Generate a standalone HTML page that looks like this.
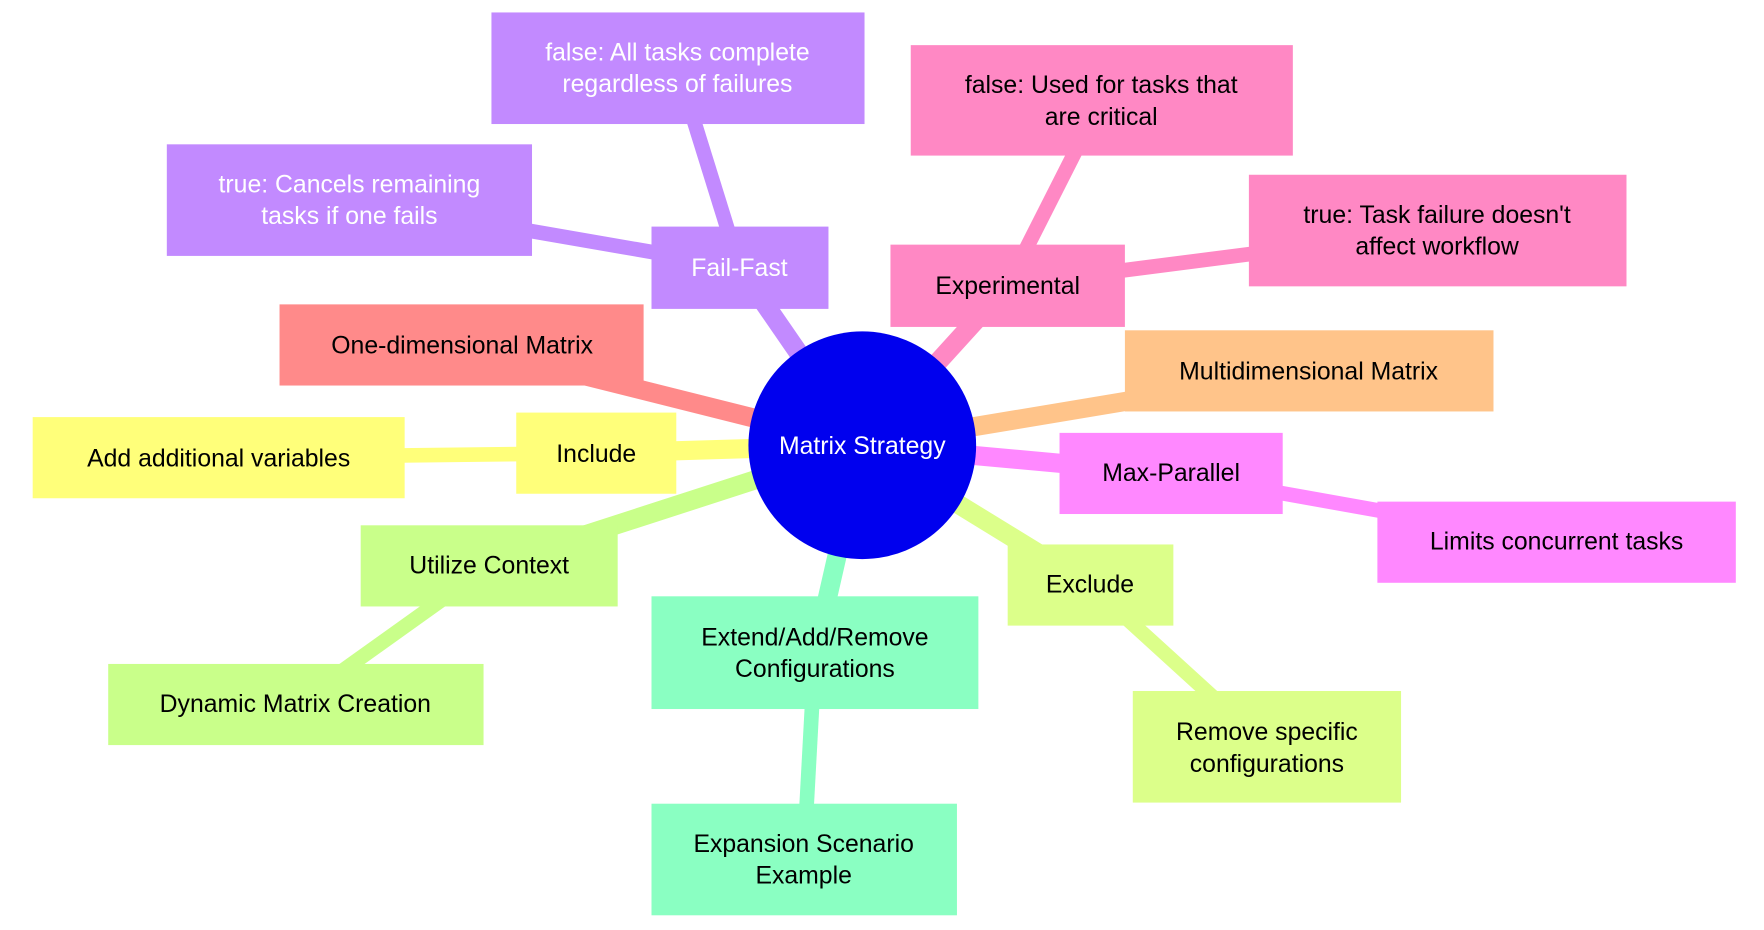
<!DOCTYPE html>
<html><head><meta charset="utf-8"><style>
html,body{margin:0;padding:0;background:#fff;}
svg{display:block}
text{font-family:"Liberation Sans",sans-serif;font-size:22px;text-anchor:middle;dominant-baseline:central;}
</style></head><body>
<svg width="1764" height="930" viewBox="0 0 1565 825" xmlns="http://www.w3.org/2000/svg">
<g stroke-linecap="butt">
<line x1="765" y1="395" x2="656" y2="237" stroke="#c28aff" stroke-width="17"/>
<line x1="656" y1="237" x2="601" y2="60" stroke="#c28aff" stroke-width="13"/>
<line x1="656" y1="237" x2="310" y2="177" stroke="#c28aff" stroke-width="13"/>
<line x1="765" y1="395" x2="894" y2="253" stroke="#ff88c4" stroke-width="17"/>
<line x1="894" y1="253" x2="977" y2="89" stroke="#ff88c4" stroke-width="13"/>
<line x1="894" y1="253" x2="1275" y2="204" stroke="#ff88c4" stroke-width="13"/>
<line x1="765" y1="395" x2="410" y2="306" stroke="#ff8a8a" stroke-width="17"/>
<line x1="765" y1="395" x2="1161" y2="329" stroke="#ffc48a" stroke-width="17"/>
<line x1="765" y1="395" x2="529" y2="402" stroke="#ffff7a" stroke-width="17"/>
<line x1="529" y1="402" x2="194" y2="406" stroke="#ffff7a" stroke-width="13"/>
<line x1="765" y1="395" x2="1039" y2="420" stroke="#ff88ff" stroke-width="17"/>
<line x1="1039" y1="420" x2="1381" y2="481" stroke="#ff88ff" stroke-width="13"/>
<line x1="765" y1="395" x2="434" y2="502" stroke="#c9ff8a" stroke-width="17"/>
<line x1="434" y1="502" x2="262" y2="625" stroke="#c9ff8a" stroke-width="13"/>
<line x1="765" y1="395" x2="723" y2="579" stroke="#8affc2" stroke-width="17"/>
<line x1="723" y1="579" x2="713" y2="763" stroke="#8affc2" stroke-width="13"/>
<line x1="765" y1="395" x2="967" y2="519" stroke="#dcff8a" stroke-width="17"/>
<line x1="967" y1="519" x2="1124" y2="662" stroke="#dcff8a" stroke-width="13"/>
</g>
<g>
<rect x="578" y="201" width="157" height="73" fill="#c28aff"/>
<text x="656" y="238" fill="#fff">Fail-Fast</text>
<rect x="436" y="11" width="331" height="99" fill="#c28aff"/>
<text x="601" y="47" fill="#fff">false: All tasks complete</text>
<text x="601" y="75" fill="#fff">regardless of failures</text>
<rect x="148" y="128" width="324" height="99" fill="#c28aff"/>
<text x="310" y="164" fill="#fff">true: Cancels remaining</text>
<text x="310" y="192" fill="#fff">tasks if one fails</text>

<rect x="790" y="217" width="208" height="73" fill="#ff88c4"/>
<text x="894" y="254">Experimental</text>
<rect x="808" y="40" width="339" height="98" fill="#ff88c4"/>
<text x="977" y="76">false: Used for tasks that</text>
<text x="977" y="104">are critical</text>
<rect x="1108" y="155" width="335" height="99" fill="#ff88c4"/>
<text x="1275" y="191">true: Task failure doesn't</text>
<text x="1275" y="219">affect workflow</text>

<rect x="248" y="270" width="323" height="72" fill="#ff8a8a"/>
<text x="410" y="307">One-dimensional Matrix</text>
<rect x="998" y="293" width="327" height="72" fill="#ffc48a"/>
<text x="1161" y="330">Multidimensional Matrix</text>

<rect x="458" y="366" width="142" height="72" fill="#ffff7a"/>
<text x="529" y="403">Include</text>
<rect x="29" y="370" width="330" height="72" fill="#ffff7a"/>
<text x="194" y="407">Add additional variables</text>

<rect x="940" y="384" width="198" height="72" fill="#ff88ff"/>
<text x="1039" y="420">Max-Parallel</text>
<rect x="1222" y="445" width="318" height="72" fill="#ff88ff"/>
<text x="1381" y="481">Limits concurrent tasks</text>

<rect x="320" y="466" width="228" height="72" fill="#c9ff8a"/>
<text x="434" y="502">Utilize Context</text>
<rect x="96" y="589" width="333" height="72" fill="#c9ff8a"/>
<text x="262" y="625">Dynamic Matrix Creation</text>

<rect x="578" y="529" width="290" height="100" fill="#8affc2"/>
<text x="723" y="566">Extend/Add/Remove</text>
<text x="723" y="594">Configurations</text>
<rect x="578" y="713" width="271" height="99" fill="#8affc2"/>
<text x="713" y="749">Expansion Scenario</text>
<text x="713" y="777">Example</text>

<rect x="894" y="483" width="147" height="72" fill="#dcff8a"/>
<text x="967" y="519">Exclude</text>
<rect x="1005" y="613" width="238" height="99" fill="#dcff8a"/>
<text x="1124" y="650">Remove specific</text>
<text x="1124" y="678">configurations</text>

<circle cx="765" cy="395" r="101" fill="#0000ee"/>
<text x="765" y="396" fill="#fff">Matrix Strategy</text>
</g>
</svg>
</body></html>
